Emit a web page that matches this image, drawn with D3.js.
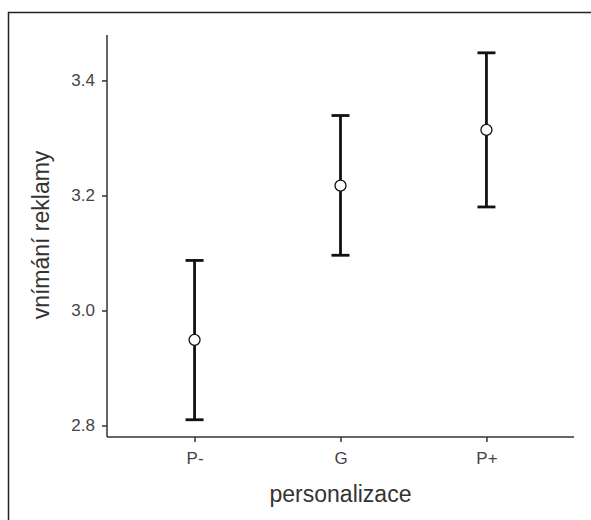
<!DOCTYPE html>
<html>
<head>
<meta charset="utf-8">
<script src="https://d3js.org/d3.v7.min.js"></script>
<style>
	body {margin:0; background:white;}
	svg {display:block;}
</style>
</head>
<body>
<div id="chart"></div>
<script>
// data
var categories = ["P-", "G", "P+"];
var means = [2.949, 3.217, 3.314];
var lower = [2.810, 3.096, 3.180];
var upper = [3.087, 3.339, 3.448];
var yTicks = [2.8, 3.0, 3.2, 3.4];

var data = categories.map(function(c, i) {
	return {cat: c, mean: means[i], lo: lower[i], hi: upper[i]};
});

var W = 591, H = 520;
var plotLeft = 107, plotRight = 574, plotTop = 35, plotBottom = 437;

var svg = d3.select("#chart").append("svg")
	.attr("width", W)
	.attr("height", H);

// frame round the figure
svg.append("rect")
	.attr("x", 8.5).attr("y", 12.5)
	.attr("width", 600).attr("height", 600)
	.attr("fill", "none")
	.attr("stroke", "#222")
	.attr("stroke-width", 1.5);

var x = d3.scalePoint()
	.domain(categories)
	.range([plotLeft, plotRight])
	.padding(0.6);

var y = d3.scaleLinear()
	.domain([2.78, 3.479])
	.range([plotBottom, plotTop]);

var font = "'Liberation Sans', Arial, Helvetica, sans-serif";

var yAxis = svg.append("g")
	.attr("transform", "translate(" + plotLeft + ",0)")
	.call(d3.axisLeft(y).tickValues(yTicks).tickFormat(d3.format(".1f")).tickSize(5).tickPadding(7));

var xAxis = svg.append("g")
	.attr("transform", "translate(0," + plotBottom + ")")
	.call(d3.axisBottom(x).tickSize(5).tickPadding(10));

[yAxis, xAxis].forEach(function(a) {
	a.select(".domain").attr("stroke", "#333").attr("stroke-width", 1.5);
	a.selectAll(".tick line").attr("stroke", "#333").attr("stroke-width", 1.5);
	a.selectAll(".tick text")
		.attr("font-family", font)
		.attr("font-size", 17)
		.attr("fill", "#444");
});
// y axis line only as high as plotting area, x axis line without outer ticks
yAxis.select(".domain").attr("d", "M0," + plotTop + "V" + plotBottom);
xAxis.select(".domain").attr("d", "M" + plotLeft + ",0H" + plotRight);

// error bars
var bars = svg.selectAll("g.bar").data(data).enter()
	.append("g").attr("class", "bar");

bars.append("line")
	.attr("x1", function(d) { return x(d.cat); })
	.attr("x2", function(d) { return x(d.cat); })
	.attr("y1", function(d) { return y(d.lo); })
	.attr("y2", function(d) { return y(d.hi); })
	.attr("stroke", "#111")
	.attr("stroke-width", 2.8);

bars.selectAll("line.cap")
	.data(function(d) { return [{cat: d.cat, v: d.lo}, {cat: d.cat, v: d.hi}]; })
	.enter().append("line")
	.attr("class", "cap")
	.attr("x1", function(d) { return x(d.cat) - 9; })
	.attr("x2", function(d) { return x(d.cat) + 9; })
	.attr("y1", function(d) { return y(d.v); })
	.attr("y2", function(d) { return y(d.v); })
	.attr("stroke", "#111")
	.attr("stroke-width", 2.8);

bars.append("circle")
	.attr("cx", function(d) { return x(d.cat); })
	.attr("cy", function(d) { return y(d.mean); })
	.attr("r", 5.5)
	.attr("fill", "white")
	.attr("stroke", "#111")
	.attr("stroke-width", 1.3);

// axis titles
svg.append("text")
	.attr("x", (plotLeft + plotRight) / 2)
	.attr("y", 502)
	.attr("text-anchor", "middle")
	.attr("font-family", font)
	.attr("font-size", 23)
	.attr("fill", "#333")
	.text("personalizace");

svg.append("text")
	.attr("transform", "translate(49,235) rotate(-90)")
	.attr("text-anchor", "middle")
	.attr("font-family", font)
	.attr("font-size", 23)
	.attr("fill", "#333")
	.text("vnímání reklamy");
</script>
</body>
</html>
